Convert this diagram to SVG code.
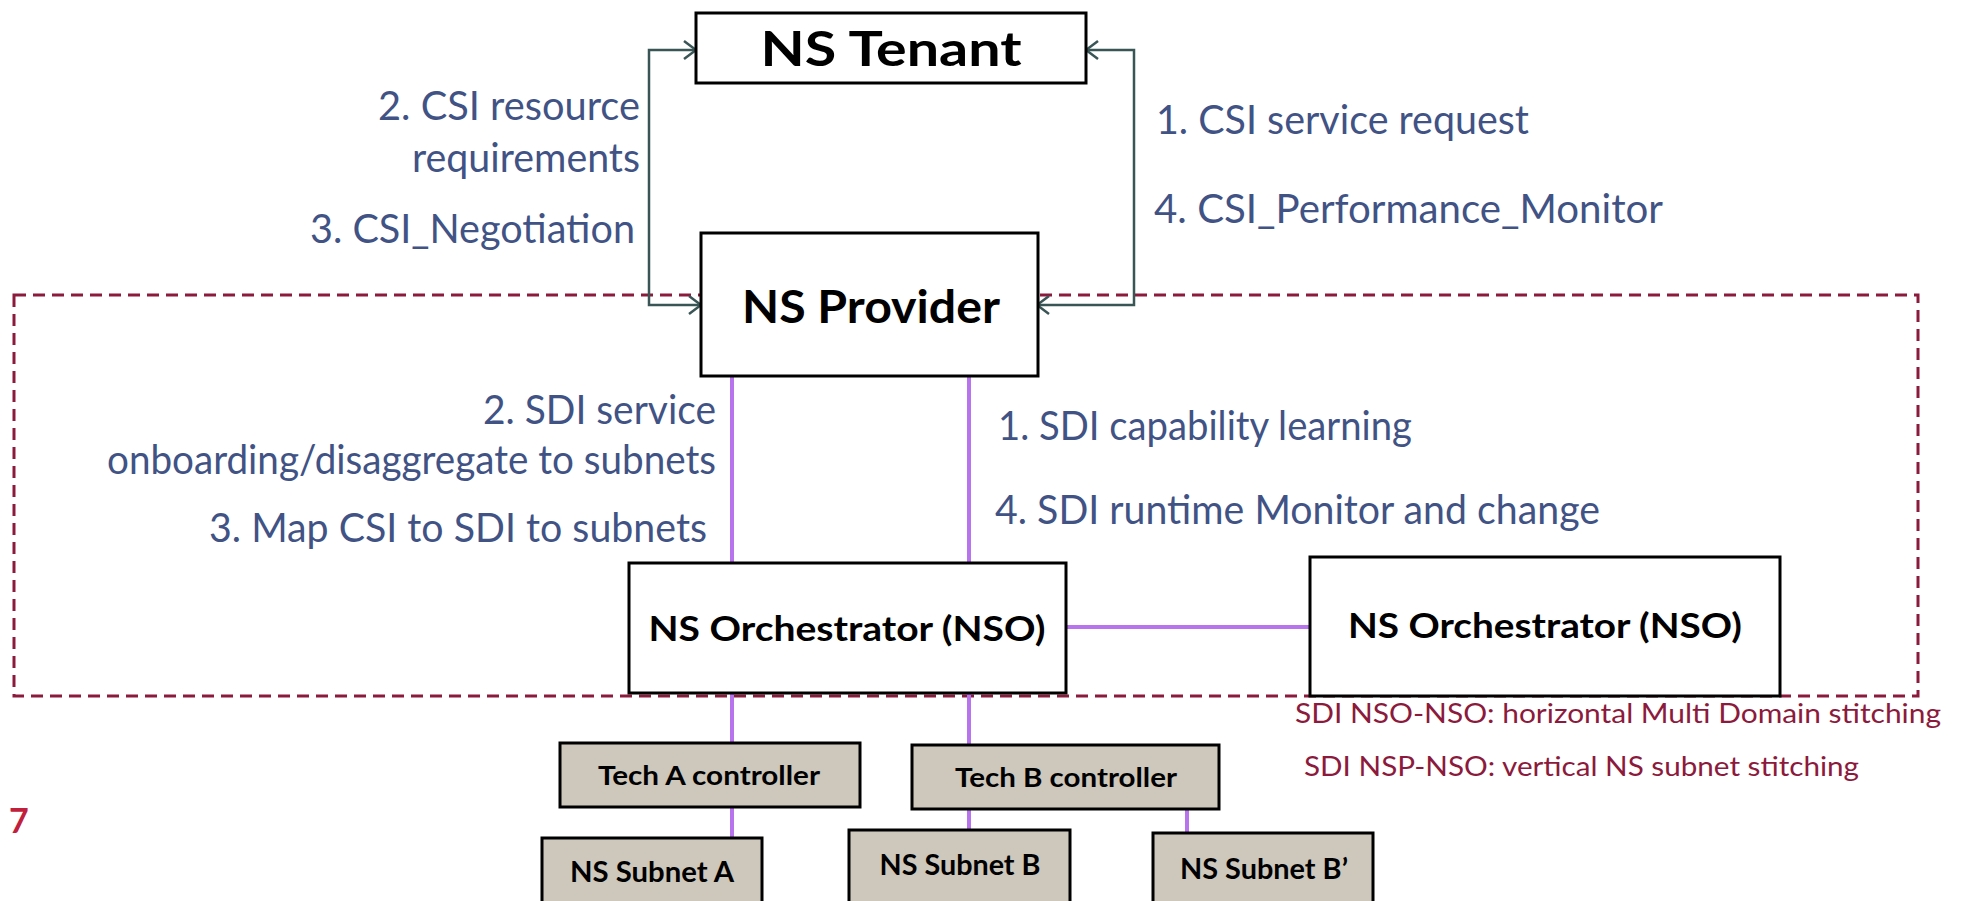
<svg xmlns="http://www.w3.org/2000/svg" width="1962" height="901" viewBox="0 0 1962 901">
<style>
.box{fill:#fff;stroke:#000;stroke-width:3}
.gbox{fill:#cdc7bc;stroke:#000;stroke-width:3}
.bt{font-family:Lato,"Liberation Sans",sans-serif;font-weight:bold;fill:#000;text-anchor:middle}
.lbl{font-family:Lato,"Liberation Sans",sans-serif;fill:#415385;font-size:40px}
.red{font-family:Lato,"Liberation Sans",sans-serif;fill:#8b1a3c;font-size:27px}
.conn{fill:none;stroke:#3a5555;stroke-width:2.5}
.pur{fill:none;stroke:#b874ec;stroke-width:4}
</style>
<defs>
<marker id="arr" viewBox="0 0 14 20" refX="13" refY="10" markerWidth="14" markerHeight="20" markerUnits="userSpaceOnUse" orient="auto-start-reverse">
<path d="M1,1 L13,10 L1,19" fill="none" stroke="#3a5555" stroke-width="2.5"/>
</marker>
</defs>
<rect x="14" y="295" width="1904" height="401" fill="none" stroke="#8b1a3c" stroke-width="3" stroke-dasharray="12 7"/>
<g id="connectors">
<path class="conn" d="M701,305 L649,305 L649,50 L696,50" marker-start="url(#arr)" marker-end="url(#arr)"/>
<path class="conn" d="M1037,305 L1134,305 L1134,50 L1086,50" marker-start="url(#arr)" marker-end="url(#arr)"/>
<line class="pur" x1="732" y1="376" x2="732" y2="562"/>
<line class="pur" x1="969" y1="376" x2="969" y2="562"/>
<line class="pur" x1="1067" y1="627" x2="1310" y2="627" stroke-width="6"/>
<line class="pur" x1="732" y1="693" x2="732" y2="743"/>
<line class="pur" x1="969" y1="693" x2="969" y2="744"/>
<line class="pur" x1="732" y1="807" x2="732" y2="838"/>
<line class="pur" x1="969" y1="809" x2="969" y2="830"/>
<line class="pur" x1="1187" y1="809" x2="1187" y2="833"/>
</g>
<g id="tenant">
<rect class="box" x="696" y="13" width="390" height="70"/>
<text class="bt" x="891" y="66" font-size="47" textLength="261" lengthAdjust="spacingAndGlyphs">NS Tenant</text>
</g>
<g id="provider">
<rect class="box" x="701" y="233" width="337" height="143"/>
<text class="bt" x="871" y="323" font-size="46" textLength="258" lengthAdjust="spacingAndGlyphs">NS Provider</text>
</g>
<g id="nso1">
<rect class="box" x="629" y="563" width="437" height="130"/>
<text class="bt" x="847" y="641" font-size="35" textLength="397" lengthAdjust="spacingAndGlyphs">NS Orchestrator (NSO)</text>
</g>
<g id="nso2">
<rect class="box" x="1310" y="557" width="470" height="139"/>
<text class="bt" x="1545" y="638" font-size="35" textLength="394" lengthAdjust="spacingAndGlyphs">NS Orchestrator (NSO)</text>
</g>
<g id="techA">
<rect class="gbox" x="560" y="743" width="300" height="64"/>
<text class="bt" x="709" y="785" font-size="26" textLength="222" lengthAdjust="spacingAndGlyphs">Tech A controller</text>
</g>
<g id="techB">
<rect class="gbox" x="912" y="745" width="307" height="64"/>
<text class="bt" x="1066" y="787" font-size="26" textLength="222" lengthAdjust="spacingAndGlyphs">Tech B controller</text>
</g>
<g id="subnetA">
<rect class="gbox" x="542" y="838" width="220" height="70"/>
<text class="bt" x="652" y="882" font-size="28" textLength="164" lengthAdjust="spacingAndGlyphs">NS Subnet A</text>
</g>
<g id="subnetB">
<rect class="gbox" x="849" y="830" width="221" height="78"/>
<text class="bt" x="960" y="875" font-size="28" textLength="161" lengthAdjust="spacingAndGlyphs">NS Subnet B</text>
</g>
<g id="subnetB2">
<rect class="gbox" x="1153" y="833" width="220" height="75"/>
<text class="bt" x="1264" y="879" font-size="28" textLength="168" lengthAdjust="spacingAndGlyphs">NS Subnet B’</text>
</g>
<g id="labels">
<text class="lbl" x="640" y="120" text-anchor="end" textLength="262" lengthAdjust="spacingAndGlyphs">2. CSI resource</text>
<text class="lbl" x="640" y="172" text-anchor="end" textLength="228" lengthAdjust="spacingAndGlyphs">requirements</text>
<text class="lbl" x="635" y="243" text-anchor="end" textLength="325" lengthAdjust="spacingAndGlyphs">3. CSI_Negotiation</text>
<text class="lbl" x="1156" y="134" textLength="373" lengthAdjust="spacingAndGlyphs">1. CSI service request</text>
<text class="lbl" x="1154" y="223" textLength="509" lengthAdjust="spacingAndGlyphs">4. CSI_Performance_Monitor</text>
<text class="lbl" x="716" y="424" text-anchor="end" textLength="233" lengthAdjust="spacingAndGlyphs">2. SDI service</text>
<text class="lbl" x="716" y="474" text-anchor="end" textLength="609" lengthAdjust="spacingAndGlyphs">onboarding/disaggregate to subnets</text>
<text class="lbl" x="707" y="542" text-anchor="end" textLength="498" lengthAdjust="spacingAndGlyphs">3. Map CSI to SDI to subnets</text>
<text class="lbl" x="998" y="440" textLength="414" lengthAdjust="spacingAndGlyphs">1. SDI capability learning</text>
<text class="lbl" x="995" y="524" textLength="605" lengthAdjust="spacingAndGlyphs">4. SDI runtime Monitor and change</text>
<text class="red" x="1295" y="723" textLength="646" lengthAdjust="spacingAndGlyphs">SDI NSO-NSO: horizontal Multi Domain stitching</text>
<text class="red" x="1304" y="776" textLength="555" lengthAdjust="spacingAndGlyphs">SDI NSP-NSO: vertical NS subnet stitching</text>
<text x="9" y="833" font-family="Lato,'Liberation Sans',sans-serif" font-weight="bold" font-size="34" fill="#c0203c">7</text>
</g>
</svg>
